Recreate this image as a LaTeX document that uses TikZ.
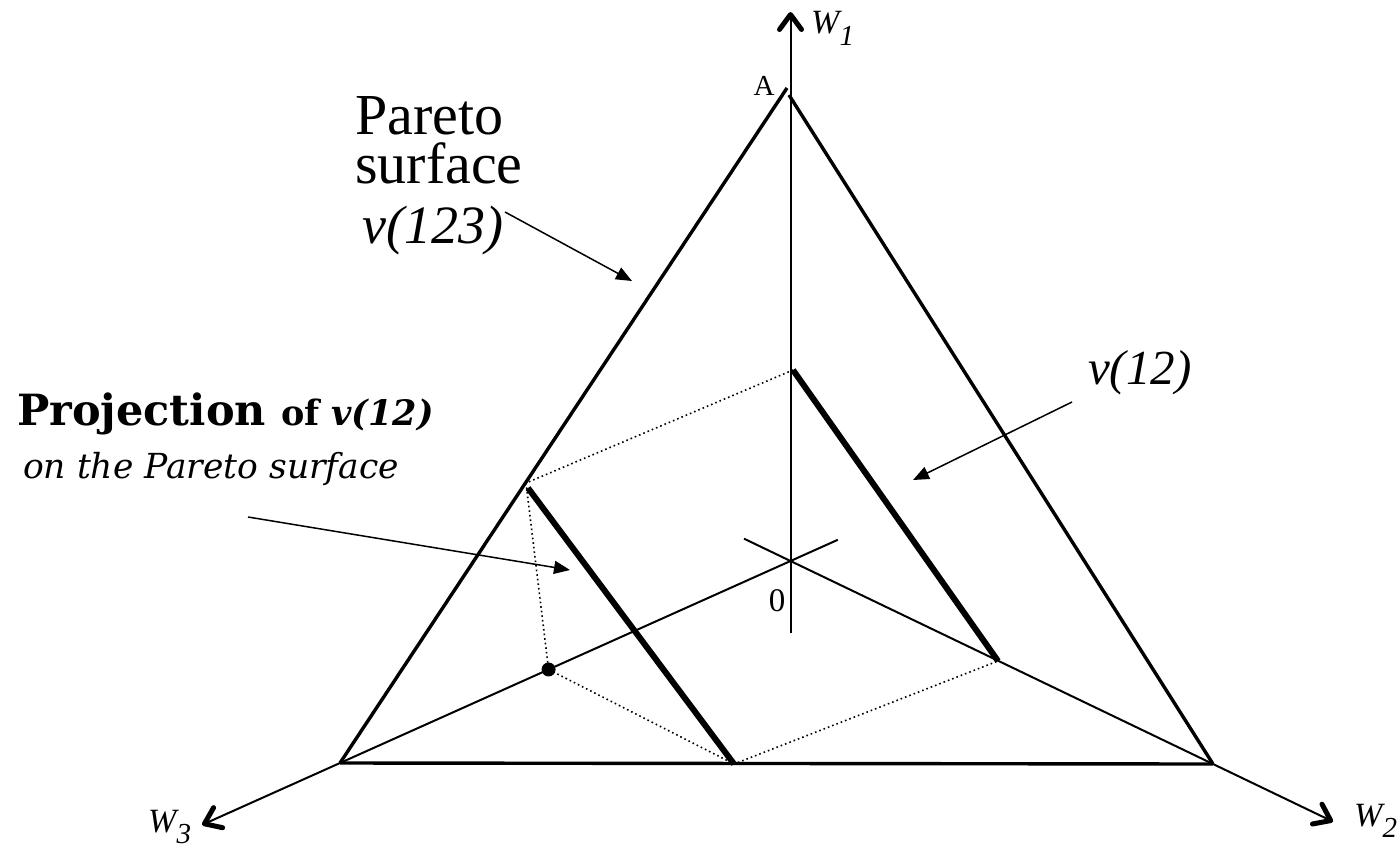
\documentclass[tikz,border=0pt]{standalone}
\usepackage{fontspec}
\setmainfont{Liberation Serif}
\newfontfamily\dvs{DejaVu Serif}
\usetikzlibrary{arrows.meta,calc}
\begin{document}
\begin{tikzpicture}[x=1pt,y=-1pt,
  axisarrow/.style={line width=2pt,-{Straight Barb[length=15pt,width=22pt,line width=5pt,round]}},
  side/.style={line width=3.4pt},
  seg/.style={line width=6pt},
  proj/.style={line width=1.6pt,dash pattern=on 1.6pt off 3pt},
  note/.style={line width=1.5pt,-{Triangle[length=16pt,width=13pt]}},
  lbl/.style={inner sep=0pt,anchor=base west}]
\useasboundingbox (0,0) rectangle (1400,849);
% key points
\coordinate (O) at (790.5,561);
\coordinate (Aleft) at (787,88);
\coordinate (Aright) at (789,95);
\coordinate (B) at (340,763);
\coordinate (C) at (1213,764);
\coordinate (W1tip) at (790.5,12);
\coordinate (W1end) at (790.5,633);
\coordinate (W2tip) at ($(O)!1.284!(C)$);
\coordinate (W2end) at ($(O)!-0.11!(C)$);
\coordinate (W3tip) at ($(O)!1.306!(B)$);
\coordinate (W3end) at ($(O)!-0.105!(B)$);
\coordinate (P1) at (793,370);
\coordinate (P2) at (998,661);
\coordinate (Q1) at (528,488);
\coordinate (Q2) at (734,764);
\coordinate (L1) at (526,483);
\coordinate (D) at ($(O)!0.537!(B)$);
% axes
\draw[axisarrow] (W1end) -- (W1tip);
\draw[axisarrow] (W2end) -- (W2tip);
\draw[axisarrow] (W3end) -- (W3tip);
% triangle
\draw[side] (B) -- (Aleft);
\draw[side] (Aright) -- (C);
\draw[side] (B) -- (C);
% projection construction
\draw[proj] (P1) -- (L1) -- (D) -- (Q2) -- (P2);
\draw[seg] (P1) -- (P2);
\draw[seg] (Q1) -- (Q2);
\fill (D) circle (7pt);
% labels
\node[inner sep=0pt] (lA) at (764,86) {\fontsize{29}{29}\selectfont A};
\node[inner sep=0pt] (l0) at (777,601) {\fontsize{33}{33}\selectfont 0};
\node[lbl] (lw1) at (811,33) {\fontsize{34}{34}\selectfont\itshape W\raisebox{-12pt}{\fontsize{29}{29}\selectfont 1}};
\node[lbl] (lw2) at (1354,826) {\fontsize{34}{34}\selectfont\itshape W\raisebox{-11pt}{\fontsize{29}{29}\selectfont 2}};
\node[lbl] (lw3) at (148,832) {\fontsize{34}{34}\selectfont\itshape W\raisebox{-11pt}{\fontsize{29}{29}\selectfont 3}};
\node[lbl] (pareto) at (355,134) {\fontsize{58}{58}\selectfont Pareto};
\node[lbl] (surface) at (355,183) {\fontsize{58}{58}\selectfont surface};
\node[lbl] (v123) at (362,243) {\fontsize{54}{54}\selectfont\itshape v(123)};
\node[lbl] (v12) at (1088,384) {\fontsize{49}{49}\selectfont\itshape v(12)};
\node[lbl] (projt) at (17,425) {\dvs\fontsize{43}{43}\selectfont\bfseries Projection \fontsize{35}{35}\selectfont of \itshape v(12)};
\node[lbl] (ont) at (23,478) {\dvs\fontsize{34.5}{34.5}\selectfont\itshape on the Pareto surface};
% annotation arrows
\coordinate (n1s) at (505,212); \coordinate (n1e) at (632,281);
\coordinate (n2s) at (1072,402); \coordinate (n2e) at (913,480);
\coordinate (n3s) at (248,517); \coordinate (n3e) at (570,570);
\draw[note] (n1s) -- (n1e);
\draw[note] (n2s) -- (n2e);
\draw[note] (n3s) -- (n3e);
\end{tikzpicture}
\end{document}
